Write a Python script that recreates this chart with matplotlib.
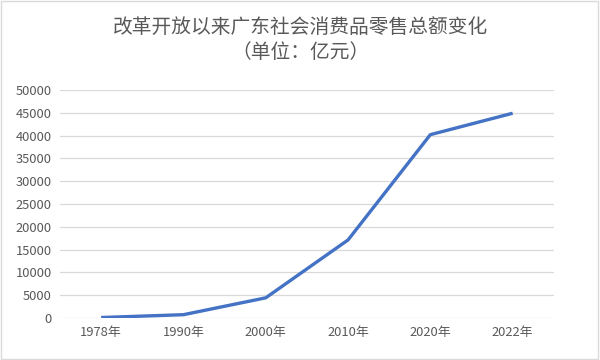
import matplotlib.pyplot as plt
from matplotlib.patches import Rectangle

plt.rcParams['font.family'] = ['Noto Sans CJK SC', 'DejaVu Sans']

years = ['1978年', '1990年', '2000年', '2010年', '2020年', '2022年']
sales = [80, 700, 4400, 17100, 40200, 44900]

fig = plt.figure(figsize=(6, 3.6), dpi=100)
ax = fig.add_axes([0.1, 0.117, 0.823, 0.633])

x = list(range(len(years)))
ax.plot(x, sales, color='#4472C4', linewidth=2.4, solid_capstyle='butt', zorder=3)

ax.set_xlim(-0.5, len(years) - 0.5)
ax.set_ylim(0, 50000)
ax.set_yticks(range(0, 50001, 5000))
ax.set_xticks(x)
ax.set_xticklabels(years)
ax.grid(axis='y', color='#D9D9D9', linewidth=0.9)
ax.set_axisbelow(True)
for s in ax.spines.values():
    s.set_visible(False)
ax.tick_params(length=0, labelsize=9.3, colors='#595959', pad=6)

fig.text(0.5, 0.925, '改革开放以来广东社会消费品零售总额变化', ha='center', va='center',
         fontsize=14.2, color='#595959')
fig.text(0.5, 0.855, '（单位：亿元）', ha='center', va='center',
         fontsize=14.2, color='#595959')

fig.patches.append(Rectangle((0.002, 0.003), 0.995, 0.994, transform=fig.transFigure,
                             fill=False, edgecolor='#D9D9D9', linewidth=1))

fig.savefig('out.png', dpi=100)
